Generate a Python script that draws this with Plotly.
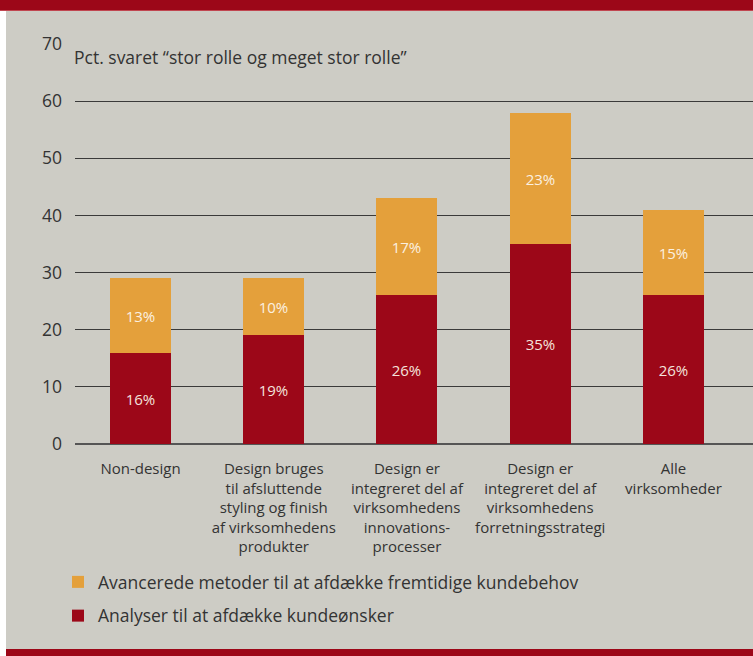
import plotly.graph_objects as go

# Survey data: share answering "stor rolle og meget stor rolle" (pct.)
categories = [
    "Non-design",
    "Design bruges<br>til afsluttende<br>styling og finish<br>af virksomhedens<br>produkter",
    "Design er<br>integreret del af<br>virksomhedens<br>innovations-<br>processer",
    "Design er<br>integreret del af<br>virksomhedens<br>forretningsstrategi",
    "Alle<br>virksomheder",
]
analyser = [16, 19, 26, 35, 26]
avancerede = [13, 10, 17, 23, 15]
y_ticks = [0, 10, 20, 30, 40, 50, 60, 70]

name_analyser = "Analyser til at afdække kundeønsker"
name_avancerede = "Avancerede metoder til at afdække fremtidige kundebehov"

RED = "#9c0718"
ORANGE = "#e4a03b"
BG = "#cdccc5"
TEXT = "#333333"
FONT = "Open Sans"

W, H = 753, 656
L, R, T, B = 75, 0, 44, 212
pw, ph = W - L - R, H - T - B

def px_x(p):
    return (p - L) / pw

def px_y(p):
    return (H - B - p) / ph

xpos = list(range(len(categories)))

fig = go.Figure()
fig.add_trace(go.Bar(
    x=xpos, y=analyser, name=name_analyser, legendgroup="a", legendrank=2,
    marker=dict(color=RED, line=dict(width=0)), width=0.458,
    texttemplate="%{y}%", textposition="inside", insidetextanchor="middle",
    textfont=dict(color="#f4e3dc", size=15, family=FONT),
    hoverinfo="skip",
))
fig.add_trace(go.Bar(
    x=xpos, y=avancerede, name=name_avancerede, legendgroup="b", legendrank=1,
    marker=dict(color=ORANGE, line=dict(width=0)), width=0.458,
    texttemplate="%{y}%", textposition="inside", insidetextanchor="middle",
    textfont=dict(color="#fbf0e0", size=15, family=FONT),
    hoverinfo="skip",
))

shapes = [
    # white strip along the left edge
    dict(type="rect", xref="paper", yref="paper", x0=px_x(-20), x1=px_x(6),
         y0=px_y(H + 20), y1=px_y(-20), fillcolor="white", line_width=0, layer="below"),
    # red band at the top
    dict(type="rect", xref="paper", yref="paper", x0=px_x(-20), x1=px_x(W + 20),
         y0=px_y(10), y1=px_y(-20), fillcolor=RED, line_width=0, layer="below"),
    dict(type="line", xref="paper", yref="paper", x0=px_x(-20), x1=px_x(W + 20),
         y0=px_y(10.5), y1=px_y(10.5), line=dict(color="#c04650", width=1), layer="below"),
    # red band at the bottom
    dict(type="rect", xref="paper", yref="paper", x0=px_x(6), x1=px_x(W + 20),
         y0=px_y(H + 20), y1=px_y(649), fillcolor=RED, line_width=0, layer="below"),
]

fig.update_layout(
    width=W, height=H,
    margin=dict(l=L, r=R, t=T, b=B, pad=0),
    barmode="stack",
    bargap=0,
    paper_bgcolor=BG, plot_bgcolor=BG,
    font=dict(family=FONT, color=TEXT, size=16),
    shapes=shapes,
    showlegend=True,
    legend=dict(
        traceorder="grouped", tracegroupgap=8,
        x=px_x(58), y=px_y(564), xanchor="left", yanchor="top",
        bgcolor="rgba(0,0,0,0)", font=dict(size=17.5, color=TEXT, family=FONT),
        itemclick=False, itemdoubleclick=False,
    ),
    annotations=[dict(
        text="Pct. svaret “stor rolle og meget stor rolle”",
        xref="paper", yref="paper", x=px_x(72), y=px_y(43), xanchor="left", yanchor="top",
        showarrow=False, font=dict(size=17.5, color=TEXT, family=FONT),
    )],
)
fig.update_xaxes(
    range=[-0.4916, 4.597], tickvals=xpos, ticktext=categories,
    showgrid=False, zeroline=False, showline=False, ticks="",
    tickfont=dict(size=15, color=TEXT, family=FONT), ticklabelstandoff=14,
    fixedrange=True,
)
fig.update_yaxes(
    range=[0, 70], tickvals=y_ticks, showgrid=True, gridcolor="#3a3a3a", gridwidth=1.2,
    zeroline=True, zerolinecolor="#555555", zerolinewidth=1.5, showline=False, ticks="",
    tickfont=dict(size=17.5, color=TEXT, family=FONT), ticklabelstandoff=12,
    fixedrange=True,
)

fig.write_html("out.html", config={"displayModeBar": False})
